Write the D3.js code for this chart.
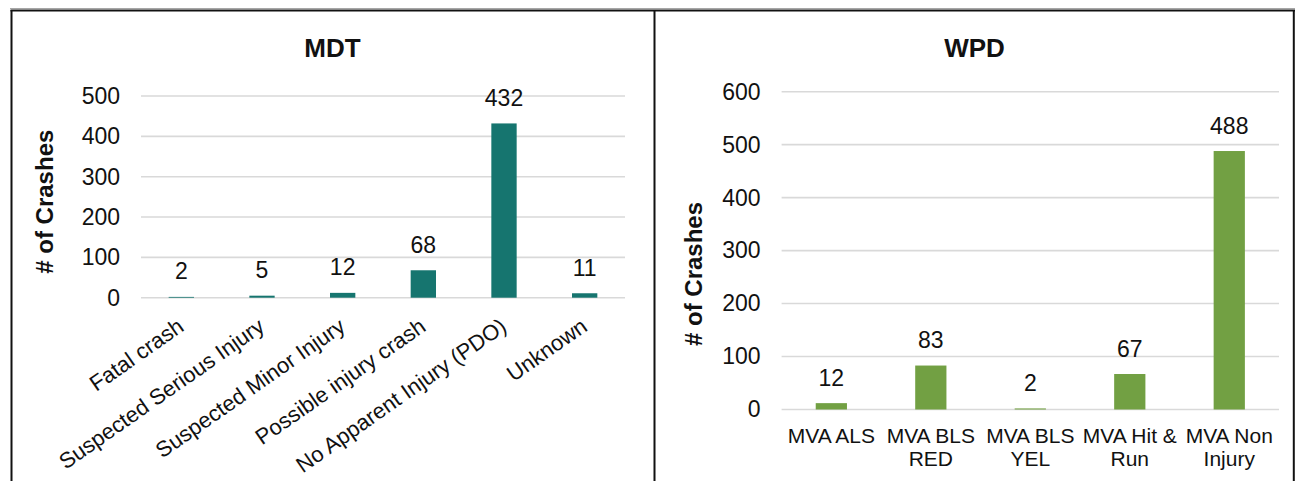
<!DOCTYPE html>
<html>
<head>
<meta charset="utf-8">
<script src="https://cdn.jsdelivr.net/npm/d3@7"></script>
<style>
  html, body { margin: 0; padding: 0; background: #fff; }
  svg { display: block; font-family: "Liberation Sans", Arial, sans-serif; }
</style>
</head>
<body>
<svg id="chart" width="1299" height="481"></svg>
<script>
// Crash counts by reported outcome, one panel per agency
const mdtCategories = ["Fatal crash", "Suspected Serious Injury", "Suspected Minor Injury",
                       "Possible injury crash", "No Apparent Injury (PDO)", "Unknown"];
const mdtValues = [2, 5, 12, 68, 432, 11];
const mdtTicks = [0, 100, 200, 300, 400, 500];

const wpdCategories = ["MVA ALS", "MVA BLS RED", "MVA BLS YEL", "MVA Hit & Run", "MVA Non Injury"];
const wpdValues = [12, 83, 2, 67, 488];
const wpdTicks = [0, 100, 200, 300, 400, 500, 600];

const svg = d3.select("#chart");
const textColor = "#111";
const gridColor = "#d9d9d9";

// Panel frames
svg.append("line").attr("x1", 10).attr("x2", 1295).attr("y1", 8.5).attr("y2", 8.5)
  .attr("stroke", "#a6a6a6").attr("stroke-width", 1);
svg.append("line").attr("x1", 10.5).attr("x2", 1295).attr("y1", 10.5).attr("y2", 10.5)
  .attr("stroke", "#111").attr("stroke-width", 2);
[11.5, 654.5, 1293.8].forEach(x => {
  svg.append("line").attr("x1", x).attr("x2", x).attr("y1", 10).attr("y2", 481)
    .attr("stroke", "#111").attr("stroke-width", 2);
});

function panel(opts) {
  const g = svg.append("g");
  const x = d3.scaleBand().domain(opts.categories).range(opts.xRange)
    .paddingInner(0.686).paddingOuter(0.343);
  const y = d3.scaleLinear().domain([0, d3.max(opts.ticks)]).range(opts.yRange);

  // Title
  g.append("text").attr("x", opts.titleX).attr("y", 56.7)
    .attr("text-anchor", "middle").attr("font-size", 26).attr("font-weight", "bold")
    .attr("fill", textColor).text(opts.title);

  // Axis title
  g.append("text")
    .attr("transform", `translate(${opts.yTitle[0]},${opts.yTitle[1]}) rotate(-90)`)
    .attr("text-anchor", "middle").attr("font-size", 24).attr("font-weight", "bold")
    .attr("fill", textColor).text("# of Crashes");

  // Gridlines
  g.append("g").selectAll("line").data(opts.ticks).join("line")
    .attr("x1", opts.xRange[0]).attr("x2", opts.xRange[1])
    .attr("y1", d => y(d)).attr("y2", d => y(d))
    .attr("stroke", gridColor).attr("stroke-width", 1.6);

  // Value axis labels
  const yAxis = g.append("g").attr("transform", `translate(${opts.xRange[0]},0)`)
    .call(d3.axisLeft(y).tickValues(opts.ticks).tickSize(0).tickPadding(21));
  yAxis.select(".domain").remove();
  yAxis.selectAll("text").attr("font-size", 23).attr("fill", textColor)
    .attr("font-family", "Liberation Sans, Arial, sans-serif");

  // Bars
  g.append("g").selectAll("rect").data(opts.values).join("rect")
    .attr("x", (d, i) => x(opts.categories[i]))
    .attr("width", x.bandwidth())
    .attr("y", d => y(d))
    .attr("height", d => y(0) - y(d))
    .attr("fill", opts.color);

  // Data labels
  g.append("g").selectAll("text").data(opts.values).join("text")
    .attr("x", (d, i) => x(opts.categories[i]) + x.bandwidth() / 2)
    .attr("y", d => y(d) - 17.5)
    .attr("text-anchor", "middle").attr("font-size", 23).attr("fill", textColor)
    .text(d => d);

  // Category axis
  const xAxis = g.append("g").attr("transform", `translate(0,${y(0)})`)
    .call(d3.axisBottom(x).tickSize(0));
  xAxis.select(".domain").remove();
  xAxis.selectAll("text").attr("fill", textColor)
    .attr("font-family", "Liberation Sans, Arial, sans-serif");
  opts.labelStyle(xAxis.selectAll(".tick text"), x);
  return g;
}

panel({
  title: "MDT", titleX: 332.5, yTitle: [53, 201.7],
  categories: mdtCategories, values: mdtValues, ticks: mdtTicks,
  xRange: [141, 625], yRange: [297.7, 96], color: "#16756f",
  labelStyle: sel => {
    sel.attr("font-size", 22).attr("text-anchor", "end")
      .attr("x", 4).attr("y", 32).attr("dy", 0)
      .attr("transform", "rotate(-35, 4, 32)");
  }
});

panel({
  title: "WPD", titleX: 974.5, yTitle: [702, 274],
  categories: wpdCategories, values: wpdValues, ticks: wpdTicks,
  xRange: [781.6, 1279], yRange: [409.5, 91.7], color: "#72a043",
  labelStyle: (sel, x) => {
    const maxW = x.step() + 6;
    sel.attr("font-size", 21).attr("text-anchor", "middle").attr("y", 0).attr("dy", 0);
    sel.each(function () {
      const t = d3.select(this);
      const words = t.text().split(" ");
      t.text(null);
      const lines = [];
      let line = [];
      const probe = t.append("tspan");
      words.forEach(w => {
        const trial = line.concat([w]).join(" ");
        probe.text(trial);
        if (probe.node().getComputedTextLength() > maxW && line.length) {
          lines.push(line.join(" "));
          line = [w];
        } else {
          line.push(w);
        }
      });
      lines.push(line.join(" "));
      probe.remove();
      lines.forEach((l, i) => {
        t.append("tspan").attr("x", 0).attr("y", 33 + i * 23.5).text(l);
      });
    });
  }
});
</script>
</body>
</html>
